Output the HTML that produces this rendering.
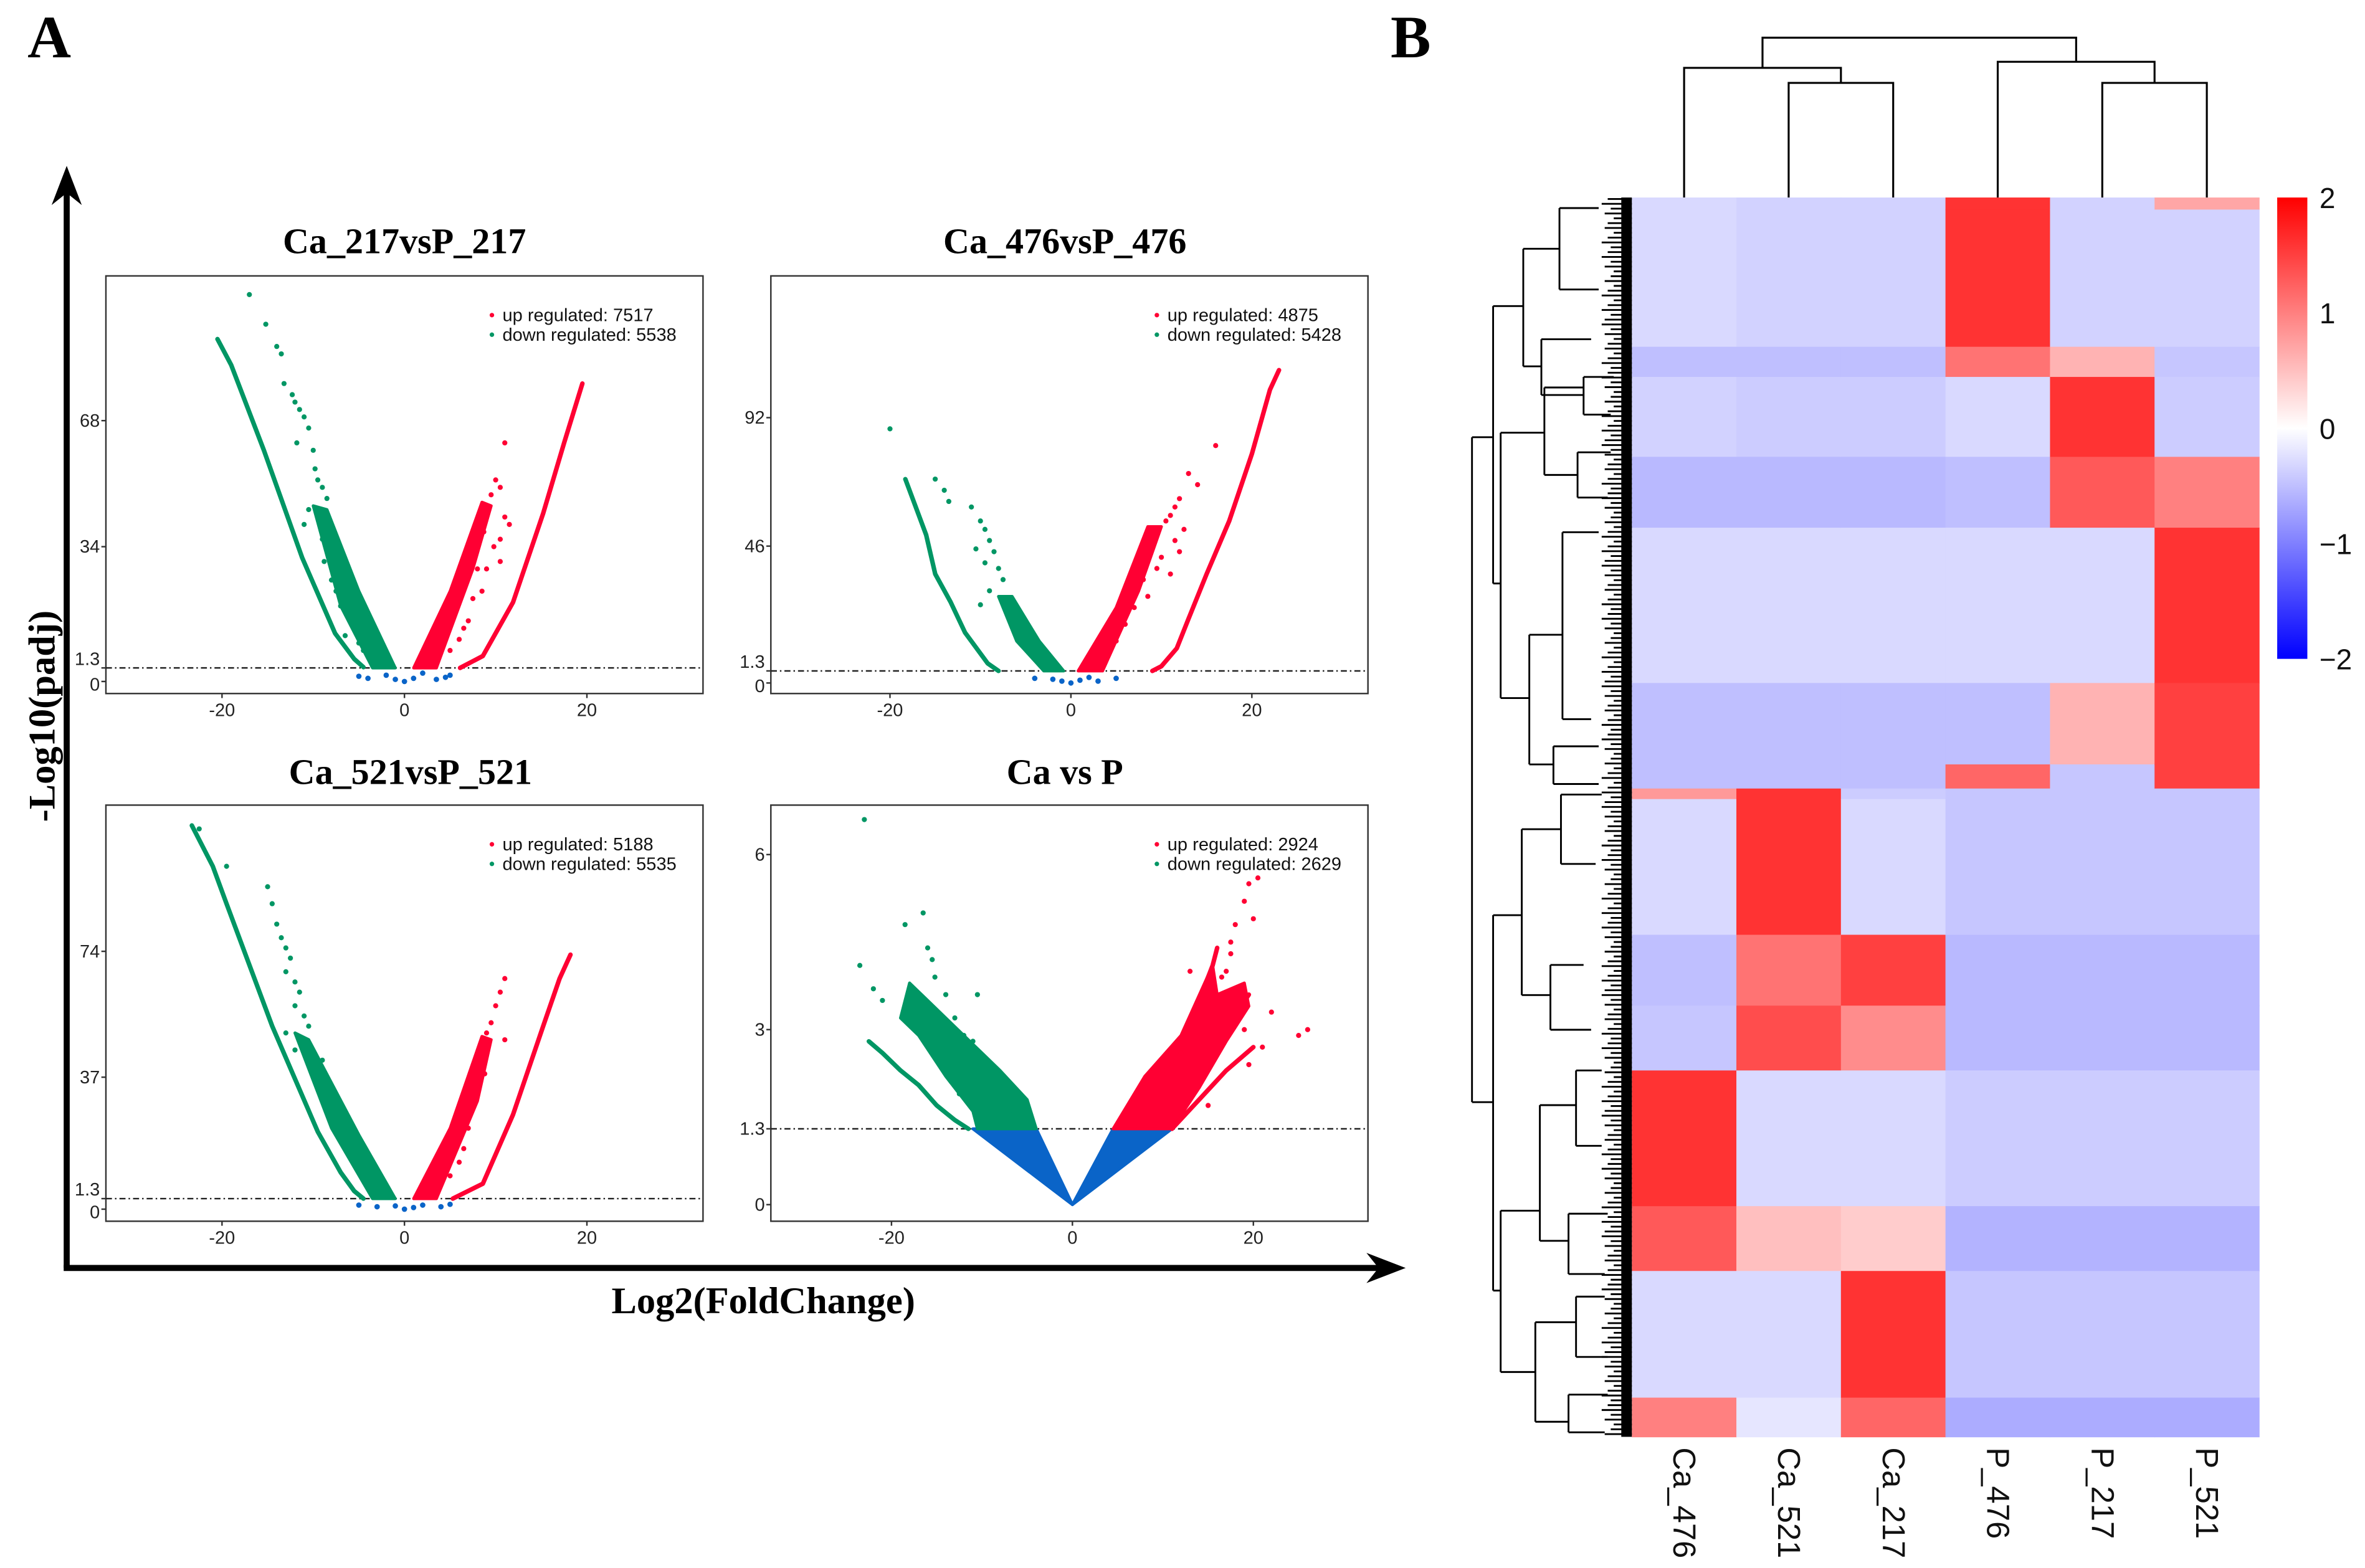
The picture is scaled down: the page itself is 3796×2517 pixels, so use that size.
<!DOCTYPE html>
<html><head><meta charset="utf-8"><title>Volcano plots and heatmap</title>
<style>
html,body{margin:0;padding:0;background:#fff;}
svg{display:block;}
.serif{font-family:"Liberation Serif",serif;font-weight:bold;}
.sans{font-family:"Liberation Sans",sans-serif;}
</style></head>
<body>
<svg id="fig" width="3796" height="2517" viewBox="0 0 1568 1040" xmlns="http://www.w3.org/2000/svg">
<rect width="1568" height="1040" fill="#fff"/>
<text class="serif" x="18" y="38" font-size="40">A</text>
<text class="serif" x="922" y="38" font-size="40">B</text>
<g stroke="#000" stroke-width="4" fill="none">
<line x1="44" y1="841" x2="44" y2="125"/>
<line x1="42" y1="841" x2="915" y2="841"/>
</g>
<polygon points="44,110 34,136 44,128 54,136" fill="#000"/>
<polygon points="932,841 906,831 914,841 906,851" fill="#000"/>
<text class="serif" font-size="25" text-anchor="middle" transform="translate(36,475) rotate(-90)">-Log10(padj)</text>
<text class="serif" font-size="25" text-anchor="middle" x="506" y="871">Log2(FoldChange)</text>
<g id="volcanoes"></g>
<g id="heat"></g>
</svg>
<script>
// ---------- Volcano data (log2FC, -log10 padj) ----------
const titles = ["Ca_217vsP_217","Ca_476vsP_476","Ca_521vsP_521","Ca vs P"];
const upCounts = [7517,4875,5188,2924];
const downCounts = [5538,5428,5535,2629];
const xTicks = [-20,0,20];
const yTicks1 = [0,1.3,34,68];
const yTicks2 = [0,1.3,46,92];
const yTicks3 = [0,1.3,37,74];
const yTicks4 = [0,1.3,3,6];
const thresh = 1.3;

const downCurve1 = [[-20.5,90],[-19,83],[-15.4,60],[-11.2,31],[-7.6,10.6],[-5.5,3.7],[-4.5,1.5]];
const upCurve1 = [[19.5,78],[17.5,62],[15.2,43],[11.9,19],[8.6,4.5],[6.1,1.3]];
const downWedge1 = [[-10,45],[-8.5,44],[-5,22],[-1,1.3],[-3.5,1.3],[-7,18]];
const upWedge1 = [[1,1.3],[3.5,1.3],[7.5,28],[9.5,45],[8.5,46],[5,22]];
const downPts1 = [[-17,102],[-15.2,94],[-14,88],[-13.5,86],[-13.2,78],[-12.3,75],[-12,73],[-11.5,71],[-11,69],[-10.5,66],[-11.8,62],[-10,60],[-9.8,55],[-9.5,52],[-9,50],[-8.5,47],[-11,40],[-10.5,44],[-9,36],[-8.8,30],[-8,25],[-7.5,22],[-7,18],[-6,14],[-6.5,10],[-5,8],[-4.5,6]];
const upPts1 = [[11,62],[10,52],[10.5,50],[9.5,48],[9,44],[11,42],[11.5,40],[10.5,36],[9.8,34],[10.5,30],[8.7,38],[9,28],[8,28],[8.5,22],[7.5,20],[7,14],[6.5,12],[6,9],[5,6]];
const nsPts1 = [[-5,0.5],[-4,0.3],[-2,0.6],[-1,0.2],[0,0],[1,0.3],[2,0.8],[3.5,0.2],[4.5,0.4],[5,0.6]];

const downCurve2 = [[-18.3,70],[-16,50],[-15,36],[-13.3,26],[-11.7,15],[-9.2,4],[-8,1.3]];
const upCurve2 = [[23,109],[22,102],[20,79],[17.5,55],[15,36],[13,20],[11.7,9.4],[10,3],[9,1.3]];
const downWedge2 = [[-8,28],[-6.5,28],[-3.5,12],[-0.8,1.3],[-3,1.3],[-6,12]];
const upWedge2 = [[0.8,1.3],[3.5,1.3],[7.5,30],[10,53],[8.5,53],[5,24]];
const downPts2 = [[-20,88],[-15,70],[-14,66],[-13.5,62],[-11,60],[-10,55],[-9.5,52],[-9,48],[-10.5,45],[-8.5,44],[-9.5,40],[-8,38],[-7.5,34],[-9,30],[-10,25],[-7,22],[-6.5,18],[-5,12]];
const upPts2 = [[16,82],[13,72],[14,68],[12,63],[11.5,60],[11,57],[10.5,55],[12.5,52],[11.5,48],[12,44],[10,42],[9.5,38],[11,36],[8,34],[8.5,28],[7,24],[6,18],[5,12]];
const nsPts2 = [[-4,0.5],[-2,0.4],[-1,0.2],[0,0],[1,0.3],[2,0.6],[3,0.2],[5,0.5]];

const downCurve3 = [[-23.3,111],[-21,99],[-19.5,88],[-14.5,52],[-9.5,21],[-7,9],[-5.5,3.5],[-4.5,1.3]];
const upCurve3 = [[18.2,73],[17,66],[15.2,52],[11.9,26],[8.6,5.7],[5.3,1.3]];
const downWedge3 = [[-12,50],[-10.5,48],[-5,20],[-1,1.3],[-3.5,1.3],[-8,22]];
const upWedge3 = [[1,1.3],[3.5,1.3],[8,30],[9.5,48],[8.5,49],[5,22]];
const downPts3 = [[-22.5,110],[-19.5,99],[-15,93],[-14.5,88],[-14,82],[-13.5,78],[-13,75],[-12.5,72],[-13,68],[-12,65],[-11.5,62],[-12,58],[-11,55],[-10.5,52],[-13,50],[-12,45],[-9,42],[-9.5,36],[-8,30],[-7,22],[-6,15],[-5,9]];
const upPts3 = [[11,66],[10.5,62],[10,58],[9.5,53],[9,50],[11,48],[8.5,44],[8.8,38],[8,34],[7.5,28],[7,22],[6.5,16],[6,12],[5,8]];
const nsPts3 = [[-5,0.5],[-3,0.3],[-1,0.4],[0,0],[1,0.2],[2,0.5],[4,0.3],[5,0.6]];

const downCurve4 = [[-22.5,2.8],[-21,2.6],[-19,2.3],[-17,2.05],[-15,1.7],[-13,1.45],[-11.5,1.3]];
const upCurve4 = [[11,1.3],[14,1.8],[17,2.3],[20,2.7]];
const downWedge4 = [[-19,3.2],[-17,2.9],[-14,2.2],[-11,1.6],[-10.5,1.3],[-4,1.3],[-5,1.8],[-8,2.3],[-12,2.9],[-16,3.5],[-18,3.8]];
const upWedge4 = [[4.5,1.3],[11,1.3],[14,2],[17,2.8],[19.5,3.4],[19,3.8],[16,3.6],[15.5,4.1],[12,2.9],[8,2.2]];
const downPts4 = [[-23,6.6],[-23.5,4.1],[-22,3.7],[-21,3.5],[-18.5,4.8],[-16.5,5],[-16,4.4],[-15.5,4.2],[-15.2,3.9],[-17,3.3],[-16,3.1],[-14,3.6],[-14.5,3],[-13,3.2],[-12,2.9],[-11,2.8],[-10.5,3.6],[-10,2.5],[-9,2.4],[-8,2.1],[-12.5,1.9],[-6,1.8],[-7,1.6]];
const upPts4 = [[20.5,5.6],[19.5,5.5],[19,5.2],[18,4.8],[17.5,4.3],[17,4],[16.5,3.9],[20,4.9],[17.5,4.5],[13,4],[15,3.5],[22,3.3],[25,2.9],[26,3],[21,2.7],[19,3],[11,2.4],[10,2.3],[12,2.6],[8,2],[7,1.8],[6,1.6],[15,1.7],[19.5,2.4]];
const nsWedge4a = [[-11,1.3],[-4,1.3],[0,0]];
const nsWedge4b = [[4.5,1.3],[11,1.3],[0,0]];
const extraUpCurves4 = [[[10,2.2],[13,3.1],[15.5,4.1],[16,4.4]],[[13,1.9],[16,2.8],[19.5,3.6]]];

const panels = [
 {box:[70,183,466,460],x0:268,xs:6.05,y0:452,yt:443,sl:2.459,yTicks:yTicks1,dc:downCurve1,uc:upCurve1,dw:downWedge1,uw:upWedge1,dp:downPts1,up:upPts1,ns:nsPts1,title:[268,168]},
 {box:[511,183,907,460],x0:710,xs:6.0,y0:453,yt:445,sl:1.852,yTicks:yTicks2,dc:downCurve2,uc:upCurve2,dw:downWedge2,uw:upWedge2,dp:downPts2,up:upPts2,ns:nsPts2,title:[706,168]},
 {box:[70,534,466,810],x0:268,xs:6.05,y0:802,yt:795,sl:2.256,yTicks:yTicks3,dc:downCurve3,uc:upCurve3,dw:downWedge3,uw:upWedge3,dp:downPts3,up:upPts3,ns:nsPts3,title:[272,520]},
 {box:[511,534,907,810],x0:711,xs:6.0,y0:799,yt:748.7,sl:38.7,yTicks:yTicks4,dc:downCurve4,uc:upCurve4,dw:downWedge4,uw:upWedge4,dp:downPts4,up:upPts4,ns:[],title:[706,520]}
];
const GREEN="#009664", RED="#ff0033", BLUE="#0a64c8";
const NS="http://www.w3.org/2000/svg";
function mk(tag,attrs,parent){const e=document.createElementNS(NS,tag);for(const k in attrs)e.setAttribute(k,attrs[k]);parent.appendChild(e);return e;}
const vol=document.getElementById('volcanoes');
panels.forEach((p,i)=>{
  const g=mk('g',{},vol);
  
  
  const X=v=>p.x0+v*p.xs;
  const Y=v=>v<=thresh? p.y0-(v/thresh)*(p.y0-p.yt) : p.yt-(v-thresh)*p.sl;
  const pts=a=>a.map(d=>X(d[0]).toFixed(1)+','+Y(d[1]).toFixed(1)).join(' ');
  const [l,t,r,b]=p.box;
  const cp=mk('clipPath',{id:'cp'+i},g); mk('rect',{x:l,y:t,width:r-l,height:b-t},cp);
  const title=mk('text',{x:p.title[0],y:p.title[1],'font-size':24,'text-anchor':'middle',class:'serif'},g);
  title.textContent=titles[i];
  
  
  const frame=mk('rect',{x:l,y:t,width:r-l,height:b-t,fill:'none',stroke:'#333','stroke-width':1},g);
  
  
  const pg=mk('g',{'clip-path':'url(#cp'+i+')'},g);
  const th=mk('line',{x1:l,x2:r,y1:Y(thresh),y2:Y(thresh),stroke:'#222','stroke-width':1,'stroke-dasharray':'4,2,1,2'},pg);
  
  
  if(i===3){
    [nsWedge4a,nsWedge4b].forEach(w=>{const e=mk('polygon',{points:pts(w),fill:BLUE,stroke:BLUE,'stroke-width':2,'stroke-linejoin':'round'},pg);
      
      });
    extraUpCurves4.forEach(c=>{const e=mk('polyline',{points:pts(c),fill:'none',stroke:RED,'stroke-width':3,'stroke-linecap':'round'},pg);
      
      });
  }
  const dw=mk('polygon',{points:pts(p.dw),fill:GREEN,stroke:GREEN,'stroke-width':2,'stroke-linejoin':'round'},pg);
  
  
  const uw=mk('polygon',{points:pts(p.uw),fill:RED,stroke:RED,'stroke-width':2,'stroke-linejoin':'round'},pg);
  
  
  const dc=mk('polyline',{points:pts(p.dc),fill:'none',stroke:GREEN,'stroke-width':3,'stroke-linecap':'round','stroke-linejoin':'round'},pg);
  
  
  const uc=mk('polyline',{points:pts(p.uc),fill:'none',stroke:RED,'stroke-width':3,'stroke-linecap':'round','stroke-linejoin':'round'},pg);
  
  
  p.dp.forEach(d=>{const c=mk('circle',{cx:X(d[0]),cy:Y(d[1]),r:1.7,fill:GREEN},pg);
    
    });
  p.up.forEach(d=>{const c=mk('circle',{cx:X(d[0]),cy:Y(d[1]),r:1.7,fill:RED},pg);
    
    });
  p.ns.forEach(d=>{const c=mk('circle',{cx:X(d[0]),cy:Y(d[1]),r:1.8,fill:BLUE},pg);
    
    });
  xTicks.forEach(v=>{
    mk('line',{x1:X(v),x2:X(v),y1:b,y2:b+3,stroke:'#333'},g);
    const tx=mk('text',{x:X(v),y:b+15,'font-size':12,'text-anchor':'middle',class:'sans',fill:'#222'},g);
    tx.textContent=v;
    
    
  });
  p.yTicks.forEach(v=>{
    let yy=Y(v);
    if(i<3 && v===thresh) yy-=6;
    if(i<3 && v===0) yy+=2;
    mk('line',{x1:l-3,x2:l,y1:Y(v),y2:Y(v),stroke:'#333'},g);
    const ty=mk('text',{x:l-4,y:yy+4,'font-size':12,'text-anchor':'end',class:'sans',fill:'#222'},g);
    ty.textContent=v;
    
    
  });
  const lx=r-140, ly=t+30;
  mk('circle',{cx:lx,cy:ly-4,r:1.5,fill:RED},g);
  mk('circle',{cx:lx,cy:ly+9,r:1.5,fill:GREEN},g);
  const t1=mk('text',{x:lx+7,y:ly,'font-size':12,class:'sans',fill:'#111'},g);
  t1.textContent='up regulated: '+upCounts[i];
  
  
  const t2=mk('text',{x:lx+7,y:ly+13,'font-size':12,class:'sans',fill:'#111'},g);
  t2.textContent='down regulated: '+downCounts[i];
  
  
});

// ---------- Heatmap data ----------
const sampleNames = ["Ca_476","Ca_521","Ca_217","P_476","P_217","P_521"];
const rowBreaks = [131,139,230,250,303,350,453,507,523,530,620,667,710,800,843,927];
const colCa476 = [-0.3,-0.3,-0.5,-0.35,-0.55,-0.3,-0.5,-0.5,0.8,-0.3,-0.5,-0.45,1.6,1.3,-0.3,1.0];
const colCa521 = [-0.35,-0.35,-0.5,-0.4,-0.55,-0.3,-0.5,-0.5,1.6,1.6,1.1,1.4,-0.3,0.5,-0.3,-0.2];
const colCa217 = [-0.35,-0.35,-0.5,-0.4,-0.55,-0.3,-0.5,-0.5,-0.4,-0.3,1.5,0.9,-0.3,0.4,1.6,1.2];
const colP476 = [1.6,1.6,1.1,-0.3,-0.5,-0.3,-0.5,1.2,-0.45,-0.45,-0.55,-0.55,-0.4,-0.6,-0.45,-0.65];
const colP217 = [-0.35,-0.35,0.6,1.6,1.3,-0.3,0.6,-0.45,-0.45,-0.45,-0.55,-0.55,-0.4,-0.6,-0.45,-0.65];
const colP521 = [0.7,-0.35,-0.45,-0.4,1.0,1.6,1.5,1.5,-0.45,-0.45,-0.55,-0.55,-0.4,-0.6,-0.45,-0.65];
const columns = [colCa476,colCa521,colCa217,colP476,colP217,colP521];
const cbTicks = [2,1,0,-1,-2];

function col(v){v=Math.max(-2,Math.min(2,v));
  if(v>=0){const k=Math.round(255*(1-v/2));return `rgb(255,${k},${k})`;}
  const k=Math.round(255*(1+v/2));return `rgb(${k},${k},255)`;}
const hx0=1082, hx1=1498, hy0=131, hy1=953;
const cw=(hx1-hx0)/sampleNames.length;
const cx=i=>hx0+(i+0.5)*cw;
const heat=document.getElementById('heat');
columns.forEach((c,ci)=>{
  const cg=mk('g',{},heat);
  
  
  c.forEach((v,ri)=>{
    const y0=rowBreaks[ri], y1=(ri+1<rowBreaks.length)?rowBreaks[ri+1]:hy1;
    const r=mk('rect',{x:hx0+ci*cw,y:y0,width:cw+0.3,height:y1-y0+0.3,fill:col(v)},cg);
    
    
  });
  const lab=mk('text',{'font-size':21,class:'sans',fill:'#111',transform:`translate(${cx(ci)-7},960) rotate(90)`},heat);
  lab.textContent=sampleNames[ci];
  
  
});
// column dendrogram
const cd=mk('g',{stroke:'#000','stroke-width':1.3,fill:'none'},heat);


function U(xa,xb,ya,yb,yt){mk('path',{d:`M${xa},${ya}V${yt}H${xb}V${yb}`},cd);}
const dTop=131;
const m12=(cx(1)+cx(2))/2, m0=(cx(0)+m12)/2, m45=(cx(4)+cx(5))/2, m3=(cx(3)+m45)/2;
U(cx(1),cx(2),dTop,dTop,55); U(cx(0),m12,dTop,55,45); U(cx(4),cx(5),dTop,dTop,55); U(cx(3),m45,dTop,55,41); U(m0,m3,45,41,25);
// colorbar
const defs=mk('defs',{},heat);
const lg=mk('linearGradient',{id:'cbg',x1:0,y1:0,x2:0,y2:1},defs);
[[0,'#ff0000'],[0.5,'#ffffff'],[1,'#0000ff']].forEach(s=>mk('stop',{offset:s[0],'stop-color':s[1]},lg));
const cb=mk('rect',{x:1510,y:131,width:20,height:306,fill:'url(#cbg)'},heat);


cbTicks.forEach(v=>{const y=131+(2-v)/4*306;
  const t=mk('text',{x:1538,y:y+7,'font-size':19,class:'sans',fill:'#111'},heat);
  t.textContent=v<0?'\u2212'+(-v):v;
  
  });
// row dendrogram (structure)
const rd=mk('g',{stroke:'#000','stroke-width':1.2,fill:'none'},heat);


const L=(x1,y1,x2,y2)=>mk('line',{x1,y1,x2,y2},rd);
L(976,290,976,731); L(976,290,990,290); L(976,731,990,731);
L(990,203,990,387); L(990,203,1010,203); L(990,387,995,387);
L(1010,165,1010,243); L(1010,165,1034,165); L(1010,243,1022,243);
L(1034,138,1034,192); L(1034,138,1060,138); L(1034,192,1060,192);
L(1022,225,1022,262); L(1022,225,1055,225); L(1022,262,1050,262);
L(995,287,995,463); L(995,287,1024,287); L(995,463,1014,463);
L(1024,257,1024,315); L(1024,257,1050,257); L(1024,315,1046,315);
L(1014,421,1014,507); L(1014,421,1036,421); L(1014,507,1030,507);
L(1036,353,1036,477); L(1036,353,1060,353); L(1036,477,1055,477);
L(1030,495,1030,520); L(1030,495,1060,495); L(1030,520,1060,520);
L(990,607,990,856); L(990,607,1009,607); L(990,856,995,856);
L(1009,550,1009,660); L(1009,550,1035,550); L(1009,660,1028,660);
L(1035,527,1035,573); L(1035,527,1062,527); L(1035,573,1058,573);
L(1028,640,1028,683); L(1028,640,1050,640); L(1028,683,1055,683);
L(995,803,995,910); L(995,803,1021,803); L(995,910,1018,910);
L(1021,733,1021,823); L(1021,733,1045,733); L(1021,823,1040,823);
L(1018,877,1018,943); L(1018,877,1045,877); L(1018,943,1040,943);
L(1045,710,1045,760); L(1045,710,1062,710); L(1045,760,1062,760);
L(1050,250,1050,275); L(1050,250,1070,250); L(1050,275,1068,275);
L(1046,300,1046,330); L(1046,300,1068,300); L(1046,330,1066,330);
L(1040,805,1040,845); L(1040,805,1066,805); L(1040,845,1064,845);
L(1045,860,1045,900); L(1045,860,1064,860); L(1045,900,1066,900);
L(1040,925,1040,950); L(1040,925,1066,925); L(1040,950,1064,950);
for(let y=132;y<953;y+=3.2){const k=Math.floor(y)%5; L(1062+k*2,y,1082,y);}
const band=mk('rect',{x:1075,y:131,width:7,height:822,fill:'#000'},heat);


</script>
</body></html>
